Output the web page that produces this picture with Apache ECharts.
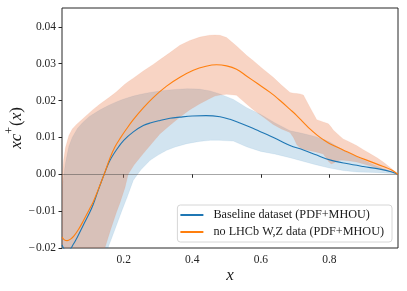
<!DOCTYPE html>
<html>
<head>
<meta charset="utf-8">
<script src="https://cdn.jsdelivr.net/npm/echarts@6/dist/echarts.min.js"></script>
<style>
html,body{margin:0;padding:0;background:#fff;}
#chart{width:407px;height:291px;}
</style>
</head>
<body>
<div id="chart"></div>
<script>
// ---- data ----
const xTickVals = [0.2, 0.4, 0.6, 0.8];
const yTickVals = [-0.02, -0.01, 0, 0.01, 0.02, 0.03, 0.04];

const seriesNames = ['Baseline dataset (PDF+MHOU)', 'no LHCb W,Z data (PDF+MHOU)'];

// Baseline central value
const blueX = [0.02, 0.03, 0.04, 0.053, 0.065, 0.082, 0.1, 0.111, 0.125, 0.143, 0.16, 0.18, 0.2, 0.228, 0.257, 0.277, 0.306, 0.335, 0.364, 0.4, 0.44, 0.481, 0.51, 0.539, 0.568, 0.597, 0.627, 0.656, 0.685, 0.724, 0.763, 0.801, 0.85, 0.899, 0.947, 0.98, 1.0];
const blueY = [-0.0192, -0.0205, -0.0205, -0.0190, -0.0170, -0.0138, -0.0105, -0.0082, -0.0045, 0.0000, 0.0038, 0.0068, 0.0092, 0.0115, 0.0132, 0.0139, 0.0146, 0.0152, 0.0155, 0.0158, 0.0159, 0.0156, 0.0149, 0.0139, 0.0128, 0.0116, 0.0104, 0.0091, 0.0078, 0.0066, 0.0052, 0.0039, 0.0029, 0.0021, 0.0014, 0.0007, 0.0];

// Baseline uncertainty band
const blueBandX = [0.02, 0.03, 0.04, 0.05, 0.065, 0.08, 0.1, 0.13, 0.154, 0.175, 0.194, 0.21, 0.228, 0.25, 0.277, 0.3, 0.325, 0.35, 0.384, 0.42, 0.452, 0.48, 0.52, 0.56, 0.6, 0.64, 0.685, 0.72, 0.76, 0.8, 0.84, 0.88, 0.93, 0.97, 1.0];
const blueLower = [-0.070, -0.068, -0.066, -0.063, -0.059, -0.054, -0.046, -0.031, -0.0200, -0.0148, -0.0100, -0.0062, -0.0016, 0.0012, 0.0038, 0.0052, 0.0065, 0.0074, 0.0083, 0.0089, 0.0092, 0.0092, 0.0090, 0.0074, 0.0062, 0.0055, 0.0045, 0.0036, 0.0026, 0.0017, 0.0010, 0.0006, 0.0005, 0.0003, 0.0];
const blueUpper = [-0.0040, 0.0030, 0.0075, 0.0100, 0.0124, 0.0140, 0.0157, 0.0174, 0.0186, 0.0195, 0.0202, 0.0207, 0.0212, 0.0217, 0.0222, 0.0225, 0.0228, 0.0230, 0.0232, 0.0231, 0.0226, 0.0218, 0.0203, 0.0180, 0.0162, 0.0140, 0.0118, 0.0111, 0.0102, 0.0088, 0.0065, 0.0047, 0.0025, 0.0010, 0.0];

// no LHCb central value
const orangeX = [0.02, 0.027, 0.035, 0.045, 0.055, 0.068, 0.082, 0.1, 0.111, 0.125, 0.143, 0.16, 0.175, 0.19, 0.209, 0.228, 0.257, 0.286, 0.325, 0.364, 0.403, 0.44, 0.471, 0.5, 0.529, 0.559, 0.59, 0.627, 0.656, 0.685, 0.704, 0.724, 0.743, 0.763, 0.782, 0.801, 0.84, 0.879, 0.918, 0.957, 0.98, 1.0];
const orangeY = [-0.0170, -0.0178, -0.0180, -0.0176, -0.0167, -0.0150, -0.0127, -0.0095, -0.0075, -0.0043, 0.0000, 0.0044, 0.0075, 0.0098, 0.0124, 0.0148, 0.0180, 0.0208, 0.0239, 0.0263, 0.0282, 0.0293, 0.0297, 0.0294, 0.0285, 0.0266, 0.0246, 0.0222, 0.0200, 0.0176, 0.0160, 0.0141, 0.0123, 0.0107, 0.0094, 0.0083, 0.0066, 0.0049, 0.0035, 0.0021, 0.0012, 0.0];

// no LHCb uncertainty band
const orangeBandX = [0.02, 0.025, 0.03, 0.04, 0.05, 0.063, 0.08, 0.111, 0.13, 0.145, 0.16, 0.178, 0.19, 0.204, 0.213, 0.23, 0.257, 0.286, 0.306, 0.335, 0.364, 0.393, 0.422, 0.45, 0.466, 0.481, 0.5, 0.529, 0.559, 0.578, 0.607, 0.636, 0.66, 0.685, 0.695, 0.705, 0.714, 0.724, 0.743, 0.763, 0.782, 0.797, 0.805, 0.811, 0.83, 0.84, 0.86, 0.879, 0.9, 0.918, 0.94, 0.957, 0.98, 1.0];
const orangeLower = [-0.065, -0.064, -0.063, -0.061, -0.059, -0.056, -0.051, -0.038, -0.028, -0.0200, -0.0155, -0.0105, -0.0075, -0.0035, 0.0000, 0.0025, 0.0056, 0.0088, 0.0110, 0.0133, 0.0155, 0.0175, 0.0191, 0.0205, 0.0212, 0.0215, 0.0217, 0.0214, 0.0190, 0.0175, 0.0155, 0.0135, 0.0123, 0.0113, 0.0100, 0.0080, 0.0072, 0.0068, 0.0064, 0.0060, 0.0055, 0.0035, 0.0028, 0.0030, 0.0038, 0.0038, 0.0036, 0.0033, 0.0028, 0.0023, 0.0017, 0.0012, 0.0006, 0.0];
const orangeUpper = [-0.0010, 0.0040, 0.0072, 0.0105, 0.0123, 0.0136, 0.0150, 0.0176, 0.0190, 0.0200, 0.0210, 0.0223, 0.0233, 0.0245, 0.0251, 0.0262, 0.0280, 0.0298, 0.0311, 0.0330, 0.0350, 0.0363, 0.0372, 0.0377, 0.0378, 0.0377, 0.0371, 0.0348, 0.0322, 0.0308, 0.0285, 0.0263, 0.0242, 0.0222, 0.0220, 0.0219, 0.0218, 0.0215, 0.0182, 0.0148, 0.0142, 0.0137, 0.0128, 0.0120, 0.0104, 0.0096, 0.0087, 0.0078, 0.0066, 0.0056, 0.0044, 0.0033, 0.0016, 0.0];

// ---- chart ----
const BLUE = '#1f77b4';
const ORANGE = '#ff7f0e';
const FONT = 'Liberation Serif';

function pairs(xs, ys) { return xs.map((x, i) => [x, ys[i]]); }
function fmt(v) {
  const s = Math.abs(v).toFixed(2);
  return (v < -1e-9 ? '\u2212\u200a' : '') + s;
}

// band drawn as a polygon through the axes' own coordinate conversion
function bandSeries(name, xs, lo, hi, fill, edge, z) {
  return {
    type: 'custom', name: name, silent: true, z: z,
    data: [[xs[0], lo[0]]],
    renderItem: function (params, api) {
      const pts = [];
      for (let i = 0; i < xs.length; i++) pts.push(api.coord([xs[i], hi[i]]));
      for (let i = xs.length - 1; i >= 0; i--) pts.push(api.coord([xs[i], lo[i]]));
      const cs = params.coordSys;
      return {
        type: 'polygon',
        shape: {points: pts},
        style: {fill: fill, stroke: edge, lineWidth: 0.7},
        clipPath: {type: 'rect', shape: {x: cs.x, y: cs.y, width: cs.width, height: cs.height}}
      };
    }
  };
}

const chart = echarts.init(document.getElementById('chart'), null, {renderer: 'canvas'});
chart.setOption({
  animation: false,
  backgroundColor: '#fff',
  grid: {left: 62, right: 9, top: 8, bottom: 43, containLabel: false, outerBoundsMode: 'none',
    show: true, borderColor: '#262626', borderWidth: 1, backgroundColor: 'transparent'},
  legend: {
    data: seriesNames,
    orient: 'vertical',
    right: 15, bottom: 49,
    padding: [3, 8, 3, 3],
    itemGap: 3,
    itemWidth: 23, itemHeight: 2,
    icon: 'rect',
    backgroundColor: 'rgba(255,255,255,0.85)',
    borderColor: '#d6d6d6', borderWidth: 1, borderRadius: 3,
    textStyle: {fontFamily: FONT, fontSize: 12.2, color: '#1a1a1a', lineHeight: 14, padding: [0, 0, 0, 5]}
  },
  xAxis: {
    type: 'value', min: 0.02, max: 1.0,
    splitLine: {show: false},
    axisLine: {show: false},
    axisTick: {show: true, length: 3.5, lineStyle: {color: '#262626'}, customValues: xTickVals},
    axisLabel: {fontFamily: FONT, fontSize: 11.5, color: '#262626', margin: 6, customValues: xTickVals, formatter: v => v.toFixed(1)},
    name: 'x', nameLocation: 'middle', nameGap: 19, nameMoveOverlap: false,
    nameTextStyle: {fontFamily: FONT, fontStyle: 'italic', fontSize: 17, color: '#1a1a1a'}
  },
  yAxis: {
    type: 'value', min: -0.02, max: 0.0451,
    splitLine: {show: false},
    axisLine: {show: false},
    axisTick: {show: true, length: 3.5, lineStyle: {color: '#262626'}, customValues: yTickVals},
    axisLabel: {fontFamily: FONT, fontSize: 11.5, color: '#262626', margin: 6, customValues: yTickVals, formatter: fmt},
    name: '{i|xc}{s|+}{r|(}{i|x}{r|)}', nameLocation: 'middle', nameGap: 37, nameRotate: 90, nameMoveOverlap: false,
    nameTextStyle: {
      fontFamily: FONT, fontSize: 17, color: '#1a1a1a',
      rich: {
        i: {fontFamily: FONT, fontStyle: 'italic', fontSize: 17, color: '#1a1a1a', lineHeight: 21, verticalAlign: 'bottom'},
        r: {fontFamily: FONT, fontSize: 17, color: '#1a1a1a', lineHeight: 21, verticalAlign: 'bottom'},
        s: {fontFamily: FONT, fontSize: 12, color: '#1a1a1a', lineHeight: 21, verticalAlign: 'top', padding: [0, 1, 6, 0]}
      }
    }
  },
  series: [
    bandSeries('blueBand', blueBandX, blueLower, blueUpper, 'rgba(31,119,180,0.2)', 'rgba(31,119,180,0.12)', 1),
    bandSeries('orangeBand', orangeBandX, orangeLower, orangeUpper, 'rgba(232,112,58,0.3)', 'rgba(232,112,58,0.12)', 2),
    {type: 'line', name: seriesNames[0], data: pairs(blueX, blueY), symbol: 'none', smooth: 0.35,
      color: BLUE, lineStyle: {width: 1.1, color: BLUE}, z: 4,
      markLine: {silent: true, symbol: 'none', label: {show: false}, lineStyle: {color: 'rgba(60,60,60,0.45)', width: 1, type: 'solid'}, data: [{yAxis: 0}]}},
    {type: 'line', name: seriesNames[1], data: pairs(orangeX, orangeY), symbol: 'none', smooth: 0.35,
      color: ORANGE, lineStyle: {width: 1.1, color: ORANGE}, z: 5}
  ]
});
</script>
</body>
</html>
